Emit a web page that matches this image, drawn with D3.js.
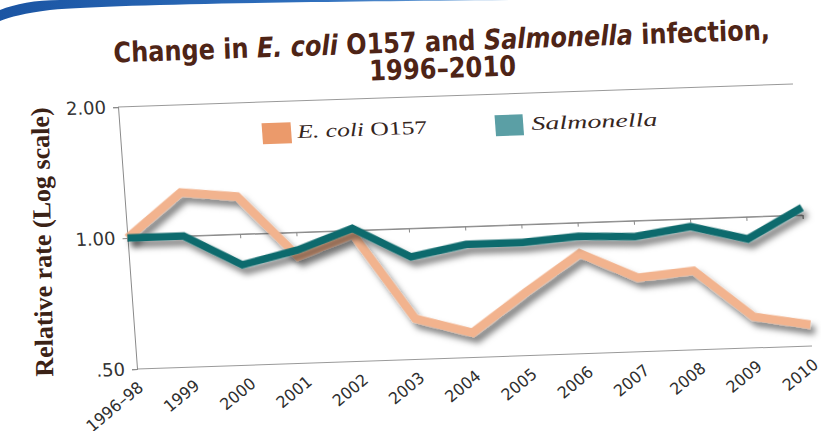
<!DOCTYPE html>
<html>
<head>
<meta charset="utf-8">
<script src="https://cdn.jsdelivr.net/npm/d3@7"></script>
<style>
  body { margin: 0; background: #fff; }
  svg { display: block; }
</style>
</head>
<body>
<div class="chart"></div>
<script>
// data
var categories = ["1996–98", "1999", "2000", "2001", "2002", "2003", "2004",
  "2005", "2006", "2007", "2008", "2009", "2010"];
var ecoliValues = [1.00, 1.26, 1.22, 0.88, 0.98, 0.62, 0.57, 0.70, 0.85, 0.74, 0.76, 0.59, 0.56];
var salmonellaValues = [1.00, 1.00, 0.85, 0.91, 1.01, 0.86, 0.91, 0.91, 0.93, 0.92, 0.96, 0.89, 1.04];
var yTickValues = [0.5, 1, 2];
var yTickLabels = [".50", "1.00", "2.00"];

var svgWidth = 821, svgHeight = 431;
var width = 675, height = 262;

var brown = "#4e2416";

var svg = d3.select(".chart")
  .append("svg")
  .attr("width", svgWidth)
  .attr("height", svgHeight);

var defs = svg.append("defs");

var shadow = defs.append("filter")
  .attr("id", "shadow")
  .attr("x", "-10%").attr("y", "-30%")
  .attr("width", "125%").attr("height", "170%");
shadow.append("feDropShadow")
  .attr("dx", 4).attr("dy", 6)
  .attr("stdDeviation", 3)
  .attr("flood-color", "#000")
  .attr("flood-opacity", 0.5);

var blue = defs.append("linearGradient").attr("id", "blue");
blue.append("stop").attr("offset", "0%").attr("stop-color", "#1b55a3");
blue.append("stop").attr("offset", "60%").attr("stop-color", "#2f6fbd");
blue.append("stop").attr("offset", "100%").attr("stop-color", "#7fb0e0");

// slide border swoosh, top left
svg.append("path")
  .attr("d", "M0,10 C15,4 35,0 60,0 L520,0 C300,2 120,4 50,10 C25,13 10,17 0,21 Z")
  .attr("fill", "url(#blue)");

// squeeze a text to a given width
function fitWidth(sel, w) {
  var len = sel.node().getComputedTextLength();
  var t = sel.attr("transform") || "";
  sel.attr("transform", t + " scale(" + (w / len) + ",1)");
}

// title
var title = svg.append("g")
  .attr("transform", "translate(442,51) rotate(-2)")
  .attr("fill", brown)
  .style("font-family", "'Liberation Sans Narrow', 'DejaVu Sans Condensed', 'DejaVu Sans', sans-serif")
  .style("font-stretch", "condensed")
  .style("font-weight", "bold")
  .style("font-size", "28px")
  .attr("text-anchor", "middle");

var t1 = title.append("text");
t1.append("tspan").text("Change in ");
t1.append("tspan").style("font-style", "italic").text("E. coli");
t1.append("tspan").text(" O157 and ");
t1.append("tspan").style("font-style", "italic").text("Salmonella");
t1.append("tspan").text(" infection,");
fitWidth(t1, 657);

var t2 = title.append("text").attr("x", 0).attr("y", 27).text("1996–2010");
fitWidth(t2, 147);

// y axis title
svg.append("text")
  .attr("transform", "translate(51,242) rotate(-91)")
  .attr("text-anchor", "middle")
  .attr("fill", "#3b2216")
  .style("font-family", "'Liberation Serif', serif")
  .style("font-weight", "bold")
  .style("font-size", "26px")
  .text("Relative rate (Log scale)");

// the plot is photographed at a slant
var chartGroup = svg.append("g")
  .attr("transform", "matrix(1,-0.0341,0.0725,1,118,107)");

var xScale = d3.scalePoint().domain(categories).range([0, width]);
var yScale = d3.scaleLog().domain([0.5, 2]).range([height, 0]);

// gridlines
chartGroup.append("g").selectAll("line")
  .data(yTickValues)
  .enter()
  .append("line")
  .attr("x1", 0).attr("x2", width)
  .attr("y1", d => yScale(d)).attr("y2", d => yScale(d))
  .attr("stroke", "#9a9a9a")
  .attr("stroke-width", 1);

// category axis crosses at 1.00
var midAxis = chartGroup.append("g")
  .attr("transform", `translate(0, ${yScale(1)})`)
  .call(d3.axisBottom(xScale).tickSize(4).tickFormat(() => ""));
midAxis.select(".domain").attr("stroke", "#8a8a8a");
midAxis.selectAll(".tick line").attr("stroke", "#8a8a8a");

// category labels along the bottom
var labelAxis = chartGroup.append("g")
  .attr("transform", `translate(0, ${height})`)
  .call(d3.axisBottom(xScale).tickSize(0));
labelAxis.select(".domain").remove();
labelAxis.selectAll("text")
  .attr("x", 0).attr("y", 0).attr("dy", "0.35em")
  .attr("text-anchor", "end")
  .attr("transform", "translate(2,16) rotate(-37)")
  .attr("fill", "#2e2e2e")
  .style("font-family", "'DejaVu Sans', sans-serif")
  .style("font-size", "16px");

// value axis
var yAxis = chartGroup.append("g")
  .call(d3.axisLeft(yScale)
    .tickValues(yTickValues)
    .tickFormat((d, i) => yTickLabels[i])
    .tickSize(5)
    .tickPadding(7));
yAxis.select(".domain").attr("stroke", "#8a8a8a");
yAxis.selectAll(".tick line").attr("stroke", "#8a8a8a");
yAxis.selectAll("text")
  .attr("fill", "#333")
  .style("font-family", "'DejaVu Sans', sans-serif")
  .style("font-size", "18px");

// lines
var line = d3.line()
  .x((d, i) => xScale(categories[i]))
  .y(d => yScale(d));

chartGroup.append("path")
  .data([ecoliValues])
  .attr("d", line)
  .attr("fill", "none")
  .attr("stroke", "#f2b38e")
  .attr("stroke-width", 8.5)
  .attr("stroke-linejoin", "miter")
  .attr("filter", "url(#shadow)");

chartGroup.append("path")
  .data([salmonellaValues])
  .attr("d", line)
  .attr("fill", "none")
  .attr("stroke", "#0f6b6d")
  .attr("stroke-width", 7.5)
  .attr("stroke-linejoin", "miter")
  .attr("filter", "url(#shadow)");

// legend
chartGroup.append("rect")
  .attr("x", 142).attr("y", 21).attr("width", 29).attr("height", 21)
  .attr("fill", "#eb9a6b");
chartGroup.append("rect")
  .attr("x", 375).attr("y", 21).attr("width", 28).attr("height", 21)
  .attr("fill", "#5b9fa5");

var legendFont = "'Liberation Serif', 'DejaVu Serif', serif";
var l1 = chartGroup.append("text")
  .attr("transform", "translate(177,37)")
  .attr("fill", "#35261e")
  .style("font-family", legendFont)
  .style("font-size", "19px");
l1.append("tspan").style("font-style", "italic").text("E. coli");
l1.append("tspan").text(" O157");
fitWidth(l1, 130);

var l2 = chartGroup.append("text")
  .attr("transform", "translate(411,37)")
  .attr("fill", "#35261e")
  .style("font-family", legendFont)
  .style("font-style", "italic")
  .style("font-size", "19px")
  .text("Salmonella");
fitWidth(l2, 126);
</script>
</body>
</html>
